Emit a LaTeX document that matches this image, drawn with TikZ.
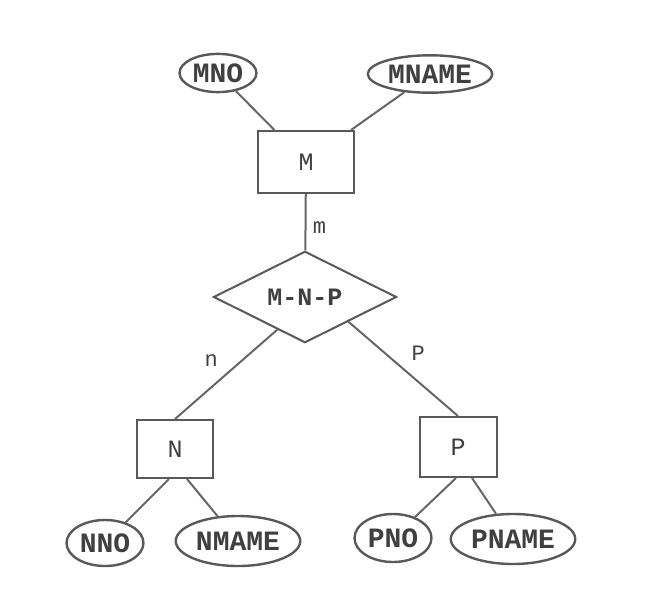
\documentclass[tikz,border=0pt]{standalone}
\usepackage{fontspec}
\setmonofont{Liberation Mono}
\usepackage{tikz}
\usetikzlibrary{shapes.geometric,calc}
\tikzset{entity/.style={rectangle, draw=black!65, line width=2pt, minimum width=96pt, minimum height=62pt, font=\fontsize{25}{28}\selectfont\ttfamily, text=black!75}}
\tikzset{attr/.style={ellipse, draw=black!65, line width=2.4pt, inner xsep=2pt, inner ysep=4pt, font=\fontsize{28}{32}\selectfont\ttfamily\bfseries, text=black!75}}
\tikzset{rel/.style={diamond, draw=black!65, line width=2pt, minimum width=183pt, minimum height=83pt, inner sep=0pt, font=\fontsize{25}{28}\selectfont\ttfamily\bfseries, text=black!75}}
\tikzset{edge/.style={line width=2pt, black!60}}
\tikzset{card/.style={font=\fontsize{22}{24}\selectfont\ttfamily, text=black!75}}

\begin{document}
\begin{tikzpicture}[x=1pt,y=-1pt]
\useasboundingbox (0,0) rectangle (652,589);

\node (mno) at (218,73)[attr]{MNO};
\node (mname) at (430,74)[attr]{MNAME};
\node (m) at (306,162)[entity]{M};
\node (mnp) at (305,297)[rel]{M-N-P};

\node (n) at (175,449)[entity, minimum width=76pt, minimum height=58pt]{N};
\node (p) at (458,447)[entity, minimum width=77pt, minimum height=60pt]{P};

%attributes of N and P
\node (nno) at (105,543)[attr, minimum height=46pt]{NNO};
\node (nmame) at (238,541)[attr, minimum height=50pt]{NMAME};
\node (pno) at (393,538)[attr, minimum height=48pt]{PNO};
\node (pname) at (513,539)[attr, minimum height=50pt]{PNAME};

\draw[edge] (mno)--(m);
\draw[edge] (mname)--(m);
\draw[edge] (m)-- node[card, right=3pt, yshift=-5pt]{m} (mnp);
\draw[edge] ($(mnp.west)!0.7!(mnp.south)$)-- node[card, above left=4pt]{n} (n.north);
\draw[edge] ($(mnp.south)!0.47!(mnp.east)$)-- node[card, above right=4pt]{P} (p.north);

\draw[edge] ([xshift=-6pt]n.south)--(nno);
\draw[edge] ([xshift=12pt]n.south)--(nmame);
\draw[edge] ([xshift=-2pt]p.south)--(pno);
\draw[edge] ([xshift=14pt]p.south)--(pname);
\end{tikzpicture}
\end{document}
